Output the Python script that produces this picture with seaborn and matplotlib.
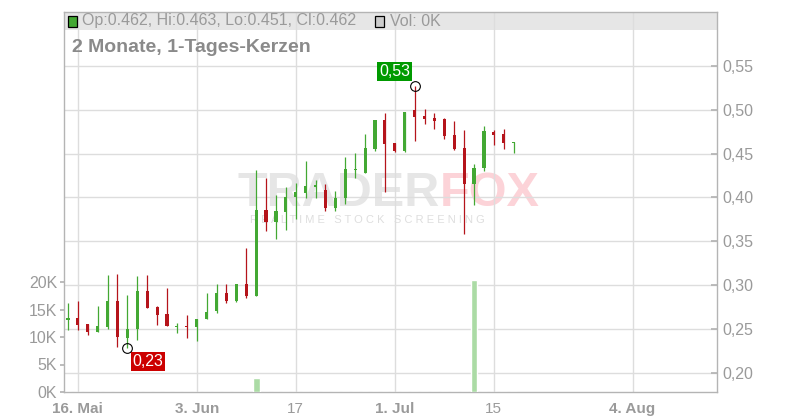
import numpy as np
import pandas as pd
import matplotlib
matplotlib.use("Agg")
import matplotlib.pyplot as plt
from matplotlib.patches import Rectangle
import seaborn as sns

sns.set_theme(style="white")
plt.rcParams["font.family"] = ["Liberation Sans", "DejaVu Sans"]

# -----------------------------
# Data (daily candles, 15 May - 17 Jul)
# -----------------------------
dates = pd.bdate_range("2024-05-15", periods=46)
opens = [0.260, 0.263, 0.256, 0.247, 0.252, 0.282, 0.240, 0.250, 0.293, 0.275,
         0.267, 0.252, 0.2535, 0.252, 0.261, 0.270, 0.2915, 0.282, 0.301, 0.287,
         0.386, 0.372, 0.383, 0.400, 0.405, 0.412, 0.408, 0.388, 0.399, 0.431,
         0.428, 0.455, 0.488, 0.462, 0.453, 0.500, 0.493, 0.491, 0.489, 0.471,
         0.456, 0.415, 0.434, 0.475, 0.472, 0.462]
highs = [0.279, 0.282, 0.256, 0.276, 0.312, 0.313, 0.289, 0.310, 0.311, 0.276,
         0.297, 0.257, 0.266, 0.2615, 0.2915, 0.301, 0.301, 0.301, 0.342, 0.431,
         0.4225, 0.403, 0.412, 0.417, 0.4415, 0.420, 0.415, 0.407, 0.446, 0.451,
         0.472, 0.488, 0.496, 0.462, 0.498, 0.527, 0.5015, 0.4965, 0.491, 0.487,
         0.477, 0.438, 0.481, 0.477, 0.478, 0.463]
lows = [0.249, 0.249, 0.243, 0.247, 0.250, 0.2295, 0.2285, 0.237, 0.274, 0.254,
        0.253, 0.245, 0.240, 0.236, 0.261, 0.268, 0.280, 0.281, 0.285, 0.287,
        0.362, 0.353, 0.363, 0.375, 0.399, 0.399, 0.385, 0.384, 0.392, 0.422,
        0.428, 0.453, 0.4065, 0.452, 0.452, 0.465, 0.484, 0.478, 0.4665, 0.454,
        0.358, 0.391, 0.430, 0.460, 0.455, 0.451]
closes = [0.262, 0.255, 0.247, 0.253, 0.282, 0.241, 0.250, 0.293, 0.274, 0.266,
          0.253, 0.253, 0.252, 0.261, 0.269, 0.2915, 0.282, 0.301, 0.287, 0.386,
          0.372, 0.384, 0.401, 0.4065, 0.413, 0.414, 0.388, 0.399, 0.432, 0.432,
          0.457, 0.488, 0.461, 0.453, 0.498, 0.492, 0.490, 0.487, 0.470, 0.455,
          0.415, 0.434, 0.476, 0.471, 0.462, 0.462]
volumes_k = [0] * 19 + [2.6] + [0] * 21 + [20.4] + [0] * 4

price_ticks = [0.20, 0.25, 0.30, 0.35, 0.40, 0.45, 0.50, 0.55]
vol_ticks = [0, 5, 10, 15, 20]
tick_days = ["2024-05-16", "2024-06-03", "2024-06-17", "2024-07-01", "2024-07-15", "2024-08-04"]
tick_labels = ["16. Mai", "3. Jun", "17", "1. Jul", "15", "4. Aug"]
title = "2 Monate, 1-Tages-Kerzen"

GREEN = "#43a833"
RED = "#b5141b"
GRID = "#dddddd"
SPINE = "#b4b4b4"
TXT = "#9a9a9a"

# -----------------------------
# Layout
# -----------------------------
fig = plt.figure(figsize=(8, 4.2), dpi=100)
L, R, T, B = 64, 716.7, 11.7, 392
ax = fig.add_axes([L / 800, (420 - B) / 420, (R - L) / 800, (B - T) / 420])

def px(x, y):
    # figure pixel -> axes fraction
    return (x - L) / (R - L), (B - y) / (B - T)

x = np.arange(len(dates))
cal = pd.bdate_range(dates[0], periods=70)
tick_pos = [int(np.searchsorted(cal, pd.Timestamp(d), side="right")) - 1 for d in tick_days]

o = np.array(opens); c = np.array(closes)
up = c >= o
cols = [GREEN if u else RED for u in up]
bottoms = np.minimum(o, c)
heights = np.maximum(np.abs(c - o), 0.0017)

# header band + watermark
ax.add_patch(Rectangle(px(L, 30), 1, 1 - px(L, 30)[1], transform=ax.transAxes,
                       color="#e6e6e6", zorder=0.3, lw=0))
t1 = ax.text(*px(238, 194), "TRADER", transform=ax.transAxes, fontsize=35,
             fontweight="bold", color="#e6e6e6", va="center", ha="left", zorder=0.4)
fig.canvas.draw()
bb = t1.get_window_extent().transformed(ax.transAxes.inverted())
ax.text(bb.x1, px(0, 194)[1], "FOX", transform=ax.transAxes, fontsize=35,
        fontweight="bold", color="#fcd3d8", va="center", ha="left", zorder=0.4)
ax.text(*px(250, 220), "R E A L T I M E   S T O C K   S C R E E N I N G", transform=ax.transAxes,
        fontsize=8, color="#dedede", va="center", ha="left", zorder=0.4)

# candles
ax.vlines(x, lows, highs, colors=cols, lw=0.9, zorder=3)
ax.bar(x, heights, bottom=bottoms, width=0.32, color=cols, lw=0, zorder=4)

# max / min markers
imax = int(np.argmax(highs)); imin = int(np.argmin(lows))
ax.plot(imax, highs[imax], "o", mfc="none", mec="black", ms=7, mew=0.8, zorder=6)
ax.plot(imin, lows[imin], "o", mfc="none", mec="black", ms=7, mew=0.8, zorder=6)
ax.annotate(f"{highs[imax]:.2f}".replace(".", ","), xy=(imax, highs[imax]),
            xytext=(-14.4, 10.6), textcoords="offset points", ha="center", va="center",
            color="white", fontsize=11.5, zorder=7,
            bbox=dict(boxstyle="square,pad=0.12", fc="#009a00", ec="none"))
ax.annotate(f"{lows[imin]:.2f}".replace(".", ","), xy=(imin, lows[imin]),
            xytext=(14.8, -9.9), textcoords="offset points", ha="center", va="center",
            color="white", fontsize=11.5, zorder=7,
            bbox=dict(boxstyle="square,pad=0.12", fc="#cc0000", ec="none"))

ax.set_ylim(0.178, 0.612)
ax.set_yticks(price_ticks)
ax.set_yticklabels([f"{v:.2f}".replace(".", ",") for v in price_ticks])
ax.grid(True, color=GRID, lw=1)
ax.set_axisbelow(True)
for s in ax.spines.values():
    s.set_color(SPINE); s.set_linewidth(1)

# volume on twin axis (left)
axv = ax.twinx()
sns.barplot(x=x, y=volumes_k, native_scale=True, width=0.68, color="#abdba5",
            saturation=1, ax=axv, zorder=2)
axv.set_ylim(0, (B - T) / 5.5)
axv.set_yticks(vol_ticks)
axv.set_yticklabels([f"{v}K" for v in vol_ticks])
axv.yaxis.tick_left()
axv.set_ylabel(""); axv.set_xlabel("")
axv.grid(False)
for s in axv.spines.values():
    s.set_visible(False)
axv.tick_params(axis="y", direction="out", length=3, pad=2, color=SPINE,
                labelcolor=TXT, labelsize=11.5)

# price ticks on the right (twinx moved them left)
ax.yaxis.tick_right()
ax.tick_params(axis="y", which="both", left=False, labelleft=False, right=True,
               labelright=True, direction="in", length=4, pad=4, color=SPINE,
               labelcolor=TXT, labelsize=11.5)

ax.set_xlim(-0.4, 65.5)
ax.set_xticks(tick_pos)
ax.set_xticklabels(tick_labels)
ax.tick_params(axis="x", direction="out", length=4, pad=3, color=SPINE,
               labelcolor=TXT, labelsize=11)
for lab in ax.get_xticklabels():
    lab.set_fontweight("normal" if lab.get_text().isdigit() else "bold")

# header texts
ax.add_patch(Rectangle(px(67.5, 26.5), 9 / (R - L), 10 / (B - T), transform=ax.transAxes,
                       fc="#43a833", ec="black", lw=0.9, zorder=5, clip_on=False))
ax.text(*px(82, 21), f"Op:{opens[-1]:.3f}, Hi:{highs[-1]:.3f}, Lo:{lows[-1]:.3f}, Cl:{closes[-1]:.3f}",
        transform=ax.transAxes, fontsize=11.5, color=TXT, va="center", ha="left", zorder=5)
ax.add_patch(Rectangle(px(375.5, 26.5), 9 / (R - L), 10 / (B - T), transform=ax.transAxes,
                       fc="#cccccc", ec="black", lw=0.9, zorder=5, clip_on=False))
ax.text(*px(390, 21), f"Vol: {volumes_k[-1]:.0f}K", transform=ax.transAxes,
        fontsize=11.5, color=TXT, va="center", ha="left", zorder=5)
ax.text(*px(72, 47), title, transform=ax.transAxes, fontsize=14, fontweight="bold",
        color="#8a8a8a", va="center", ha="left", zorder=5)

fig.savefig("out.png", dpi=100)
